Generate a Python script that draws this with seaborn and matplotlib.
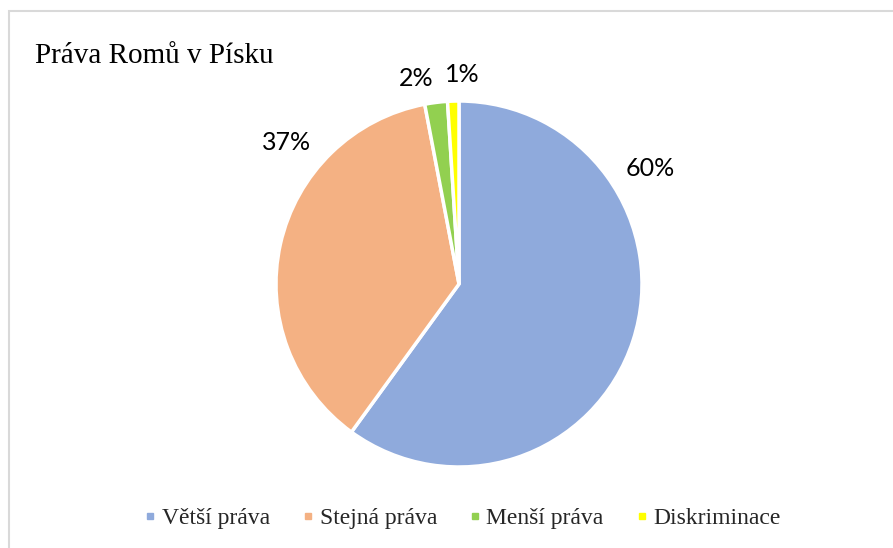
import matplotlib
matplotlib.use("Agg")
import matplotlib.pyplot as plt
import seaborn as sns
from matplotlib.lines import Line2D
from matplotlib.patches import Rectangle

sns.set_theme(style="white")

title = "Práva Romů v Písku"
categories = ["Větší práva", "Stejná práva", "Menší práva", "Diskriminace"]
values = [60, 37, 2, 1]
colors = ["#8FAADC", "#F4B183", "#92D050", "#FFFF00"]

W, H = 893, 548
fig = plt.figure(figsize=(W / 100, H / 100), dpi=100)
ax = fig.add_axes([0, 0, 1, 1])

cx, cy, r = 459, H - 284, 183
wedges, texts, autotexts = ax.pie(
    values, colors=colors, startangle=90, counterclock=False,
    center=(cx, cy), radius=r,
    wedgeprops=dict(edgecolor="white", linewidth=2.5),
    autopct=lambda p: f"{p:.0f}%",
    textprops=dict(fontsize=18, family=["Lato", "DejaVu Sans"], color="#000000"),
)
# Excel "best fit" label positions
label_pos = [(650, 168), (287, 143), (416, 78), (462, 74)]
for t, (x, y) in zip(autotexts, label_pos):
    t.set_position((x, H - y))
    t.set_ha("center")
    t.set_va("center")

ax.set_xlim(0, W)
ax.set_ylim(0, H)
ax.set_aspect("auto")
ax.axis("off")

# chart frame
ax.add_patch(Rectangle((9, -20), W + 20, H - 11 + 20, fill=False,
                       edgecolor="#D9D9D9", linewidth=1.5, clip_on=False))

ax.text(35, H - 56, title, fontsize=21, family=["Liberation Serif", "DejaVu Serif"],
        ha="left", va="center", color="#000000")

handles = [Line2D([], [], marker="s", linestyle="", color=c, markersize=4.5) for c in colors]
leg = ax.legend(handles, categories, loc="center", bbox_to_anchor=(463 / W, 1 - 518 / H),
                ncol=4, frameon=False, handlelength=0.4, handletextpad=0.3,
                columnspacing=1.4, prop=dict(family="Liberation Serif", size=17))

fig.savefig("out.png", dpi=100, facecolor="white")
